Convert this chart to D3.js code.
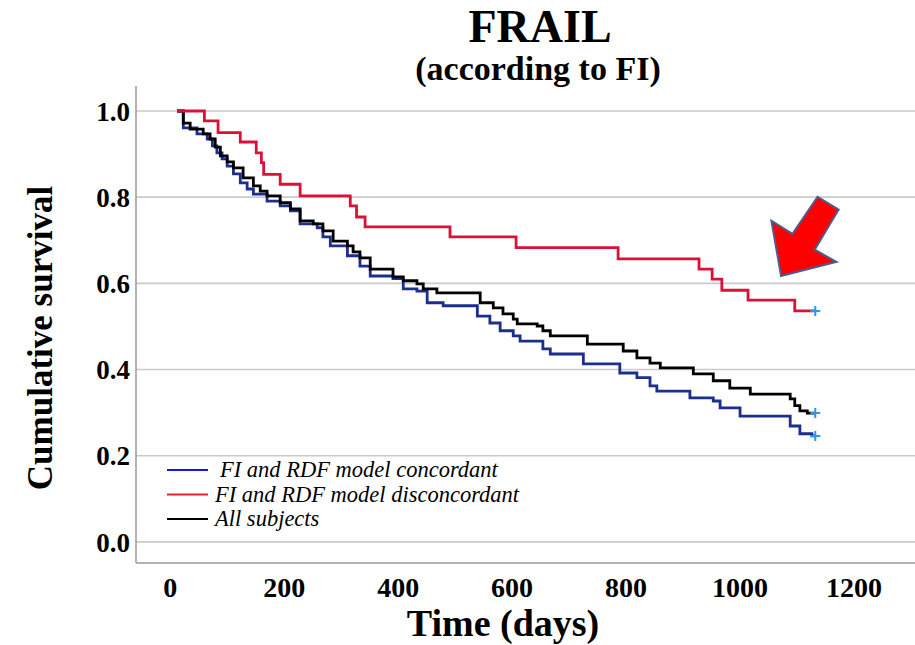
<!DOCTYPE html>
<html>
<head>
<meta charset="utf-8">
<script src="https://cdn.jsdelivr.net/npm/d3@7"></script>
<style>
  body { margin: 0; background: #fff; }
  text { font-family: "Liberation Serif", "Times New Roman", serif; }
</style>
</head>
<body>
<div id="SVG"></div>
<script>
// Kaplan-Meier steps: [day, cumulative survival]
var concordantSteps = [
  [12, 1.0], [23, 0.961], [47, 0.947], [65, 0.935], [74, 0.919], [82, 0.903],
  [91, 0.889], [100, 0.872], [111, 0.854], [123, 0.833], [135, 0.819], [146, 0.807],
  [170, 0.791], [193, 0.780], [211, 0.768], [228, 0.738], [258, 0.729], [268, 0.708],
  [281, 0.687], [311, 0.664], [333, 0.640], [351, 0.617], [391, 0.611], [409, 0.587],
  [433, 0.582], [451, 0.555], [479, 0.548], [539, 0.524], [561, 0.508], [579, 0.490],
  [602, 0.478], [614, 0.466], [654, 0.448], [667, 0.436], [725, 0.413], [789, 0.392],
  [819, 0.381], [842, 0.362], [854, 0.350], [912, 0.334], [953, 0.327], [965, 0.311],
  [1000, 0.292], [1088, 0.269], [1105, 0.251], [1126, 0.246], [1132, 0.246]
];

var disconcordantSteps = [
  [12, 1.0], [60, 0.977], [84, 0.950], [123, 0.928], [151, 0.903], [160, 0.880],
  [164, 0.853], [193, 0.830], [228, 0.803], [316, 0.780], [327, 0.754], [342, 0.731],
  [491, 0.708], [607, 0.683], [786, 0.657], [928, 0.633], [951, 0.610], [968, 0.584],
  [1014, 0.561], [1096, 0.536], [1132, 0.536]
];

var allSteps = [
  [12, 1.0], [23, 0.972], [35, 0.958], [58, 0.947], [70, 0.935], [79, 0.916],
  [88, 0.896], [100, 0.882], [111, 0.868], [128, 0.845], [146, 0.826], [158, 0.814],
  [170, 0.803], [193, 0.787], [211, 0.773], [228, 0.745], [251, 0.738], [268, 0.722],
  [286, 0.698], [311, 0.687], [321, 0.673], [333, 0.659], [351, 0.633], [391, 0.615],
  [409, 0.606], [433, 0.599], [444, 0.587], [468, 0.578], [544, 0.555], [567, 0.543],
  [584, 0.529], [602, 0.517], [609, 0.506], [644, 0.501], [654, 0.490], [667, 0.478],
  [732, 0.459], [795, 0.443], [819, 0.427], [842, 0.415], [860, 0.404], [918, 0.390],
  [953, 0.374], [982, 0.357], [1018, 0.343], [1088, 0.332], [1096, 0.316], [1105, 0.304],
  [1118, 0.299], [1132, 0.299]
];

var seriesNames = ["FI and RDF model concordant", "FI and RDF model disconcordant", "All subjects"];
var xTicks = [0, 200, 400, 600, 800, 1000, 1200];
var yTicks = [0.0, 0.2, 0.4, 0.6, 0.8, 1.0];

// arrow annotation, in data units [day, survival]
var arrowPoints = [
  [1072, 0.617], [1055, 0.745], [1092, 0.715], [1136, 0.801],
  [1173, 0.771], [1131, 0.678], [1169, 0.650]
];

// Define SVG area dimensions
var svgWidth = 915;
var svgHeight = 645;

var plot = { left: 136, right: 915, top: 86, bottom: 563 };

var svg = d3.select("#SVG")
  .append("svg")
  .attr("width", svgWidth)
  .attr("height", svgHeight);

// scales
var xScale = d3.scaleLinear().domain([-60, 1307]).range([plot.left, plot.right]);
var yScale = d3.scaleLinear().domain([-0.049, 1.058]).range([plot.bottom, plot.top]);

// horizontal gridlines
svg.append("g")
  .selectAll("line")
  .data(yTicks)
  .enter()
  .append("line")
  .attr("x1", plot.left)
  .attr("x2", plot.right)
  .attr("y1", function (d) { return yScale(d); })
  .attr("y2", function (d) { return yScale(d); })
  .attr("stroke", "#cacaca")
  .attr("stroke-width", 1.6);

// frame: left and bottom axis lines
svg.append("line")
  .attr("x1", plot.left).attr("x2", plot.left)
  .attr("y1", plot.top).attr("y2", plot.bottom)
  .attr("stroke", "#9a9a9a").attr("stroke-width", 1.5);
svg.append("line")
  .attr("x1", plot.left).attr("x2", plot.right)
  .attr("y1", plot.bottom).attr("y2", plot.bottom)
  .attr("stroke", "#9a9a9a").attr("stroke-width", 1.5);

// tick labels
svg.append("g")
  .selectAll("text")
  .data(yTicks)
  .enter()
  .append("text")
  .attr("x", 130)
  .attr("y", function (d) { return yScale(d); })
  .attr("dy", "0.36em")
  .attr("text-anchor", "end")
  .attr("font-size", 27)
  .attr("font-weight", "bold")
  .text(function (d) { return d.toFixed(1); });

svg.append("g")
  .selectAll("text")
  .data(xTicks)
  .enter()
  .append("text")
  .attr("x", function (d) { return xScale(d); })
  .attr("y", 597)
  .attr("text-anchor", "middle")
  .attr("font-size", 28)
  .attr("font-weight", "bold")
  .text(function (d) { return d; });

// axis titles
svg.append("text")
  .attr("transform", "translate(52, 338) rotate(-90)")
  .attr("text-anchor", "middle")
  .attr("font-size", 35)
  .attr("font-weight", "bold")
  .text("Cumulative survival");

svg.append("text")
  .attr("x", 503)
  .attr("y", 636)
  .attr("text-anchor", "middle")
  .attr("font-size", 38)
  .attr("font-weight", "bold")
  .text("Time (days)");

// chart title
svg.append("text")
  .attr("x", 540)
  .attr("y", 42)
  .attr("text-anchor", "middle")
  .attr("font-size", 46)
  .attr("font-weight", "bold")
  .text("FRAIL");

svg.append("text")
  .attr("x", 538)
  .attr("y", 80)
  .attr("text-anchor", "middle")
  .attr("font-size", 34)
  .attr("font-weight", "bold")
  .text("(according to FI)");

// survival curves
var stepLine = d3.line()
  .x(function (d) { return xScale(d[0]); })
  .y(function (d) { return yScale(d[1]); })
  .curve(d3.curveStepAfter);

var curves = [
  { steps: concordantSteps, color: "#1b2f8c" },
  { steps: allSteps, color: "#000000" },
  { steps: disconcordantSteps, color: "#da1238" }
];

svg.append("g")
  .selectAll("path")
  .data(curves)
  .enter()
  .append("path")
  .attr("d", function (d) { return stepLine(d.steps); })
  .attr("fill", "none")
  .attr("stroke", function (d) { return d.color; })
  .attr("stroke-width", 2.8);

// censor marks at the last follow-up
svg.append("g")
  .selectAll("path")
  .data(curves)
  .enter()
  .append("path")
  .attr("transform", function (d) {
    var last = d.steps[d.steps.length - 1];
    return "translate(" + xScale(last[0]) + "," + yScale(last[1]) + ")";
  })
  .attr("d", "M-5,0H5M0,-5V5")
  .attr("stroke", "#2f95f0")
  .attr("stroke-width", 2);

// legend
var legendColors = ["#1414e6", "#e8202f", "#000000"];
var legend = svg.append("g");
seriesNames.forEach(function (name, i) {
  var ly = 470 + i * 24.5;
  legend.append("line")
    .attr("x1", 167).attr("x2", 208)
    .attr("y1", ly).attr("y2", ly)
    .attr("stroke", legendColors[i])
    .attr("stroke-width", 2.2);
  legend.append("text")
    .attr("x", i === 0 ? 220 : 215)
    .attr("y", ly + 7)
    .attr("font-size", 22.5)
    .attr("font-style", "italic")
    .text(name);
});

// red arrow pointing at the disconcordant curve
svg.append("polygon")
  .attr("points", arrowPoints.map(function (p) {
    return xScale(p[0]) + "," + yScale(p[1]);
  }).join(" "))
  .attr("fill", "#ff0000")
  .attr("stroke", "#4a5d8e")
  .attr("stroke-width", 2)
  .attr("stroke-linejoin", "miter");
</script>
</body>
</html>
